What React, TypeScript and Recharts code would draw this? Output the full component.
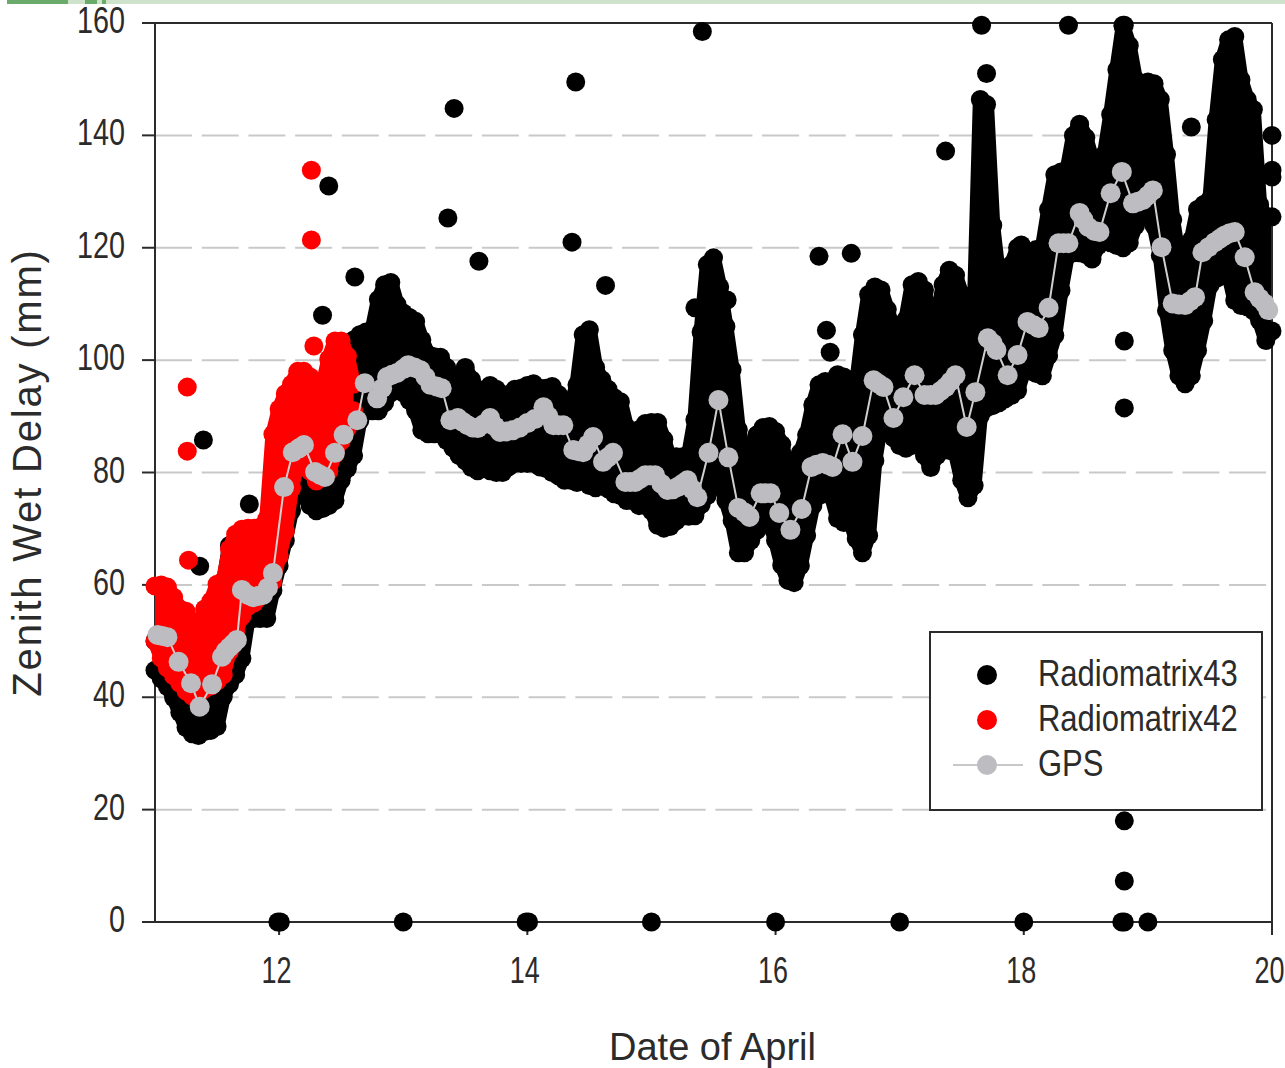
// Zenith wet delay, radiometers against GPS, 11-20 April
import {
  Area,
  CartesianGrid,
  ComposedChart,
  Legend,
  ReferenceLine,
  Scatter,
  XAxis,
  YAxis,
} from 'recharts';

// Radiomatrix43: sample days with the top and bottom of the dense cloud
const days43 = [
  11, 11.05, 11.1, 11.15, 11.2, 11.25, 11.3, 11.35, 11.4, 11.45, 11.5, 11.55, 11.6, 11.65, 11.7, 11.75, 11.8, 11.85, 11.9, 11.95,
  12, 12.05, 12.1, 12.15, 12.2, 12.25, 12.3, 12.35, 12.4, 12.45, 12.5, 12.55, 12.6, 12.65, 12.7, 12.75, 12.8, 12.85, 12.9, 12.95,
  13, 13.05, 13.1, 13.15, 13.2, 13.25, 13.3, 13.35, 13.4, 13.45, 13.5, 13.55, 13.6, 13.65, 13.7, 13.75, 13.8, 13.85, 13.9, 13.95,
  14, 14.05, 14.1, 14.15, 14.2, 14.25, 14.3, 14.35, 14.4, 14.45, 14.5, 14.55, 14.6, 14.65, 14.7, 14.75, 14.8, 14.85, 14.9, 14.95,
  15, 15.05, 15.1, 15.15, 15.2, 15.25, 15.3, 15.35, 15.4, 15.45, 15.5, 15.55, 15.6, 15.65, 15.7, 15.75, 15.8, 15.85, 15.9, 15.95,
  16, 16.05, 16.1, 16.15, 16.2, 16.25, 16.3, 16.35, 16.4, 16.45, 16.5, 16.55, 16.6, 16.65, 16.7, 16.75, 16.8, 16.85, 16.9, 16.95,
  17, 17.05, 17.1, 17.15, 17.2, 17.25, 17.3, 17.35, 17.4, 17.45, 17.5, 17.55, 17.6, 17.65, 17.7, 17.75, 17.8, 17.85, 17.9, 17.95,
  18, 18.05, 18.1, 18.15, 18.2, 18.25, 18.3, 18.35, 18.4, 18.45, 18.5, 18.55, 18.6, 18.65, 18.7, 18.75, 18.8, 18.85, 18.9, 18.95,
  19, 19.05, 19.1, 19.15, 19.2, 19.25, 19.3, 19.35, 19.4, 19.45, 19.5, 19.55, 19.6, 19.65, 19.7, 19.75, 19.8, 19.85, 19.9, 19.95,
  20,
];
const high43 = [
  50, 50, 49, 48, 47, 46, 46, 46, 47, 48, 52, 60, 67, 68, 68, 68, 68, 68, 70, 73,
  80, 85, 88, 90, 92, 93, 93, 94, 95, 97, 100, 103, 103.6, 104.5, 105, 105.4, 110.8, 113.4, 113.8, 109.9,
  108.4, 107.6, 106.9, 103.6, 101, 100.6, 100.5, 98.7, 96.5, 96.9, 98.7, 96.5, 94.8, 94.4, 95.5, 94.8, 93.9, 93.3, 94.8, 95,
  95.5, 95.8, 95, 95, 95.3, 93.9, 92.6, 92, 95.6, 104.5, 105.4, 98.7, 96.5, 94.8, 93.3, 92.6, 88, 86.7, 87.6, 88.7,
  88.9, 88.9, 85.9, 82.3, 82.8, 82.8, 83.2, 89.4, 105, 117, 118.2, 113, 106, 98.3, 87.6, 83.5, 83.5, 86.7, 88, 88.2,
  87.3, 85, 80.5, 79.1, 83.5, 86.7, 92, 95.6, 96.2, 96.2, 97.4, 97, 96.2, 95.3, 104.5, 111.7, 113, 112.5, 109, 105.4,
  105, 107.2, 113.4, 114, 112.5, 105.4, 107.2, 113.4, 116, 115.1, 111.7, 107.2, 108, 146.4, 145.5, 124, 114.3, 110, 117, 120,
  118.8, 117, 119.7, 120, 126.8, 133, 133.5, 133.9, 140, 142, 139.6, 135.7, 133.9, 136.6, 143.7, 151.7, 159.4, 156, 149.9, 149.2,
  149.5, 149.2, 146.4, 136.6, 125, 117.9, 116.5, 121.4, 126.8, 127.7, 128.6, 142.8, 153.5, 157, 157.6, 149.9, 146.4, 144.6, 127.7, 125.5,
  125.5,
];
const low43 = [
  44.8, 43.3, 41.9, 39.9, 37.3, 34.6, 33.5, 33.2, 33.9, 34.1, 34.8, 40.1, 42.3, 44, 46.9, 54, 54, 54, 54, 59,
  63.4, 67.9, 73.2, 78.6, 75.9, 74.1, 73.2, 73.6, 74.1, 75, 78.6, 80.7, 83, 89.2, 91, 91, 91, 92.4, 94.2, 94.9,
  94.2, 92.8, 91, 87.5, 86.9, 86.9, 86.9, 85.7, 84.4, 83, 82.1, 80.9, 80.3, 80.7, 80.3, 80, 80, 81, 81.6, 81.6,
  81.6, 81.6, 81, 80.7, 80, 79.4, 78.6, 78.6, 78.2, 78.9, 77.7, 77.3, 77.7, 77.1, 76.2, 75.9, 75, 75, 74.1, 74.1,
  73.2, 70.6, 70.1, 70.4, 71.4, 72.2, 72.2, 72.3, 74.3, 75.9, 77.7, 78.6, 75, 71.4, 65.7, 65.7, 67.9, 69.7, 72.3, 71.4,
  67.9, 63.5, 60.8, 60.4, 63.4, 68.8, 74.1, 75.9, 76.2, 75.9, 71.8, 71.1, 71.4, 68.2, 65.7, 68.8, 82.1, 88.9, 87.5, 86.2,
  84.8, 84.3, 84.8, 85.3, 83, 80.9, 83, 84.3, 83.9, 83.5, 78.6, 75.5, 77.7, 90.1, 91.5, 91.9, 92.4, 93.1, 93.7, 94.6,
  98.1, 98.1, 97.6, 97.2, 100.8, 104.4, 112.4, 118.6, 119.1, 119.1, 118.8, 118, 120.4, 121.6, 120.9, 120.4, 120, 120.9, 123.9, 125.5,
  126.6, 123.9, 118.6, 108.8, 101.7, 97.2, 95.8, 97.2, 101.7, 107, 113.3, 114.5, 115, 115.4, 110.6, 109.7, 109.5, 108.8, 107, 103.5,
  105.2,
];

// Radiomatrix43: isolated points outside the cloud
const strayDays43 = [
  11.39, 11.76, 11.36, 12.35, 12.4, 12.61, 13.36, 13.41, 13.61, 14.36, 14.39, 14.63, 15.41, 15.35, 15.61, 16.35, 16.61, 16.41, 16.44,
  17.66, 17.7, 17.37, 17.98, 18.36, 18.8, 18.81, 19.35, 18.81, 18.81, 18.81, 18.81, 20, 20, 20,
  11.99, 12.01, 13, 13.99, 14.01, 15, 16, 17, 18, 18.79, 18.81, 19,
];
const strayValues43 = [
  85.8, 74.4, 63.3, 108, 131, 114.8, 125.3, 144.8, 117.6, 121, 149.5, 113.3, 158.5, 109.3, 110.7, 118.5, 119, 105.3, 101.4,
  159.6, 151, 137.2, 120.5, 159.6, 159.6, 159.6, 141.5, 103.4, 91.5, 18, 7.3, 140, 133.8, 132.6,
  0, 0, 0, 0, 0, 0, 0, 0, 0, 0, 0, 0,
];

// Radiomatrix42 only covers the first part of the period
const days42 = [
  11, 11.05, 11.1, 11.15, 11.2, 11.25, 11.3, 11.35, 11.4, 11.45, 11.5, 11.55, 11.6, 11.65, 11.7, 11.75, 11.8, 11.85, 11.9, 11.95,
  12, 12.05, 12.1, 12.15, 12.2, 12.25, 12.3, 12.35, 12.4, 12.45, 12.5, 12.55, 12.6,
];
const high42 = [
  59.8, 60, 59.6, 57.8, 55.7, 55.3, 53, 52.7, 55.7, 57.1, 60.1, 60.7, 66.4, 69, 69.9, 70.1, 70.1, 70.3, 71.7, 86.8,
  91.3, 94, 95.7, 98, 98, 97, 95.7, 95.3, 100.2, 103.4, 103.4, 100.7, 95.7,
];
const low42 = [
  50, 47, 45.2, 43.8, 42.5, 41.1, 40.2, 40.6, 41.5, 42, 42.9, 44, 48.2, 51.8, 54.4, 56.2, 56.8, 58, 59.3, 60.7,
  65.1, 69.6, 77.2, 82, 81.5, 80.2, 78.5, 79.2, 80.2, 83.3, 85.6, 87.9, 91,
];
const strayDays42 = [11.26, 11.26, 11.27, 12.26, 12.26, 12.28];
const strayValues42 = [95.2, 83.8, 64.4, 133.8, 121.4, 102.5];

const gpsDays = [
  11.02, 11.06, 11.1, 11.19, 11.29, 11.36, 11.46, 11.54, 11.57, 11.6, 11.63, 11.66, 11.7, 11.75, 11.79, 11.83, 11.87, 11.91, 11.95, 12.04,
  12.11, 12.16, 12.2, 12.29, 12.33, 12.37, 12.45, 12.52, 12.63, 12.69, 12.79, 12.83, 12.87, 12.91, 12.95, 13, 13.04, 13.09, 13.14, 13.18,
  13.22, 13.27, 13.31, 13.38, 13.44, 13.48, 13.52, 13.56, 13.6, 13.65, 13.7, 13.74, 13.78, 13.83, 13.88, 13.94, 14, 14.06, 14.13, 14.17,
  14.21, 14.25, 14.29, 14.37, 14.41, 14.45, 14.49, 14.53, 14.61, 14.65, 14.69, 14.79, 14.83, 14.87, 14.91, 14.95, 14.99, 15.03, 15.08, 15.13,
  15.17, 15.21, 15.25, 15.29, 15.33, 15.37, 15.46, 15.54, 15.62, 15.7, 15.75, 15.79, 15.88, 15.92, 15.96, 16.03, 16.12, 16.21, 16.29, 16.33,
  16.38, 16.42, 16.46, 16.54, 16.62, 16.7, 16.79, 16.83, 16.87, 16.95, 17.03, 17.12, 17.2, 17.25, 17.29, 17.33, 17.37, 17.41, 17.45, 17.54,
  17.61, 17.71, 17.75, 17.78, 17.87, 17.95, 18.03, 18.08, 18.12, 18.2, 18.28, 18.32, 18.36, 18.45, 18.48, 18.52, 18.57, 18.61, 18.7, 18.79,
  18.88, 18.92, 18.96, 19, 19.04, 19.11, 19.2, 19.25, 19.3, 19.34, 19.38, 19.44, 19.49, 19.54, 19.58, 19.62, 19.66, 19.7, 19.78, 19.86,
  19.9, 19.94, 19.97,
];
const gpsValues = [
  51.1, 50.9, 50.7, 46.3, 42.5, 38.3, 42.3, 47.2, 48.2, 48.9, 49.5, 50.2, 59.1, 58.2, 57.8, 58, 58.2, 59.5, 62.1, 77.4,
  83.6, 84.3, 84.9, 80.1, 79.6, 79.2, 83.5, 86.7, 89.3, 95.9, 93.2, 95, 97, 97.4, 97.7, 98.4, 99.1, 98.7, 98.2, 97,
  95.6, 95.3, 95, 89.3, 89.7, 89, 88.4, 88, 87.9, 88.6, 89.7, 88.2, 87.2, 87.3, 87.5, 88, 88.8, 89.5, 91.6, 90,
  88.4, 88.4, 88.4, 84, 83.8, 83.6, 85, 86.3, 81.9, 82.7, 83.5, 78.3, 78.3, 78.3, 78.9, 79.5, 79.5, 79.5, 78, 76.9,
  77, 77.4, 78, 78.6, 77, 75.6, 83.5, 92.9, 82.7, 73.7, 72.9, 72.1, 76.3, 76.3, 76.3, 72.8, 69.8, 73.5, 81, 81.4,
  81.7, 81.4, 81, 86.8, 81.9, 86.5, 96.4, 95.8, 95.2, 89.7, 93.4, 97.3, 93.8, 93.8, 93.8, 94.5, 95.2, 96.2, 97.3, 88.1,
  94.3, 103.9, 103, 101.8, 97.3, 100.9, 106.8, 106.2, 105.7, 109.3, 120.8, 120.8, 120.8, 126.2, 125, 123.7, 123, 122.8, 129.7, 133.5,
  127.9, 128.2, 128.5, 129.3, 130.2, 120.1, 110.1, 109.9, 109.8, 110.5, 111.2, 119.2, 120.1, 121, 121.6, 122.2, 122.6, 122.8, 118.3, 112.1,
  111, 110.1, 108.9,
];

const xTicks = [12, 14, 16, 18, 20];
const yTicks = [0, 20, 40, 60, 80, 100, 120, 140, 160];
const legendNames = ['Radiomatrix43', 'Radiomatrix42', 'GPS'];

const BLACK = '#000000';
const RED = '#ff0000';
const GREY = '#bdbcc0';
const INK = '#2b2b2b';
const FONT = '"Liberation Sans", sans-serif';

const band = (days: number[], high: number[], low: number[]) =>
  days.map((x, i) => ({ x, range: [low[i], high[i]] }));

const cloud = (days: number[], high: number[], low: number[], strayDays: number[], strayValues: number[]) => [
  ...days.map((x, i) => ({ x, y: high[i] })),
  ...days.map((x, i) => ({ x, y: low[i] })),
  ...strayDays.map((x, i) => ({ x, y: strayValues[i] })),
];

const dot = (color: string, r: number) => (props: any) =>
  <circle cx={props.cx} cy={props.cy} r={r} fill={color} />;

// digits in the source are tall and narrow, squeeze them with textLength
const XTick = ({ x, y, payload }: any) => (
  <text
    x={x - 2.5}
    y={y + 30}
    textAnchor="middle"
    fill={INK}
    fontSize={36}
    fontFamily={FONT}
    textLength={String(payload.value).length * 15}
    lengthAdjust="spacingAndGlyphs"
  >
    {payload.value}
  </text>
);

const YTick = ({ x, y, payload }: any) => (
  <text
    x={x + 1}
    y={y + 10}
    textAnchor="end"
    fill={INK}
    fontSize={36}
    fontFamily={FONT}
    textLength={String(payload.value).length * 16}
    lengthAdjust="spacingAndGlyphs"
  >
    {payload.value}
  </text>
);

const ChartLegend = () => (
  <div
    style={{
      boxSizing: 'border-box',
      width: 334,
      height: 180,
      background: '#fff',
      border: `2px solid ${INK}`,
      position: 'relative',
      fontFamily: FONT,
      fontSize: 36,
      color: INK,
    }}
  >
    {legendNames.map((name, i) => (
      <div key={name} style={{ position: 'absolute', top: 20 + i * 45, left: 0, height: 45, width: '100%' }}>
        <svg width={100} height={45} style={{ position: 'absolute', left: 0, top: 0 }}>
          {i === 2 && <line x1={22} x2={92} y1={22} y2={22} stroke="#c8c8c8" strokeWidth={2} />}
          <circle cx={56} cy={22} r={10} fill={[BLACK, RED, GREY][i]} />
        </svg>
        <span
          style={{
            position: 'absolute',
            left: 107,
            top: 0,
            lineHeight: '42px',
            whiteSpace: 'nowrap',
            transform: 'scaleX(0.86)',
            transformOrigin: 'left center',
          }}
        >
          {name}
        </span>
      </div>
    ))}
  </div>
);

export default function App() {
  return (
    <div style={{ position: 'absolute', left: 0, top: 0, width: 1285, height: 1068, overflow: 'hidden', background: '#fff' }}>
      <div style={{ position: 'absolute', left: 7, top: 0, width: 1278, height: 4, background: '#cfe3cc' }} />
      <div style={{ position: 'absolute', left: 7, top: 0, width: 61, height: 4, background: '#6aaa6a' }} />
      <div style={{ position: 'absolute', left: 85, top: 0, width: 12, height: 4, background: '#6aaa6a' }} />
      <div style={{ position: 'absolute', left: 102, top: 0, width: 4, height: 4, background: '#6aaa6a' }} />

      {/* base chart: axes, grid and the Radiomatrix43 cloud */}
      <ComposedChart
        width={1285}
        height={1068}
        margin={{ top: 23, right: 13, bottom: 0, left: 0 }}
        style={{ position: 'absolute', left: 0, top: 0 }}
      >
        <CartesianGrid vertical={false} stroke="#c9c9c9" strokeWidth={2} strokeDasharray="37 9.7" />
        <XAxis
          dataKey="x"
          type="number"
          domain={[11, 20]}
          ticks={xTicks}
          interval={0}
          height={146}
          tickSize={13}
          tickMargin={18}
          allowDuplicatedCategory={false}
          stroke={INK}
          strokeWidth={2}
          tick={<XTick />}
          label={{ value: 'Date of April', position: 'insideBottom', offset: 8, dx: -1, fill: INK, fontSize: 38, fontFamily: FONT }}
        />
        <YAxis
          dataKey="y"
          type="number"
          domain={[0, 160]}
          ticks={yTicks}
          interval={0}
          width={155}
          tickSize={13}
          tickMargin={18}
          stroke={INK}
          strokeWidth={2}
          tick={<YTick />}
          label={{
            value: 'Zenith Wet Delay (mm)',
            angle: -90,
            position: 'insideLeft',
            dx: 22,
            dy: 0,
            fill: INK,
            fontSize: 40,
            letterSpacing: 1.8,
            fontFamily: FONT,
            style: { textAnchor: 'middle' },
          }}
        />
        <ReferenceLine y={160} stroke={INK} strokeWidth={2} />
        <ReferenceLine x={20} stroke={INK} strokeWidth={2} />
        <Area
          data={band(days43, high43, low43)}
          dataKey="range"
          fill={BLACK}
          fillOpacity={1}
          stroke={BLACK}
          strokeWidth={15}
          strokeLinejoin="round"
          dot={false}
          activeDot={false}
          legendType="none"
          isAnimationActive={false}
        />
        <Scatter
          name="Radiomatrix43"
          data={cloud(days43, high43, low43, strayDays43, strayValues43)}
          shape={dot(BLACK, 9.5)}
          isAnimationActive={false}
        />
      </ComposedChart>

      {/* second layer with the same scales: red has to sit on top of the black scatter */}
      <ComposedChart
        width={1285}
        height={1068}
        margin={{ top: 23, right: 13, bottom: 146, left: 155 }}
        style={{ position: 'absolute', left: 0, top: 0 }}
      >
        <XAxis dataKey="x" type="number" domain={[11, 20]} allowDuplicatedCategory={false} hide />
        <YAxis dataKey="y" type="number" domain={[0, 160]} hide />
        <Area
          data={band(days42, high42, low42)}
          dataKey="range"
          fill={RED}
          fillOpacity={1}
          stroke={RED}
          strokeWidth={15}
          strokeLinejoin="round"
          dot={false}
          activeDot={false}
          legendType="none"
          isAnimationActive={false}
        />
        <Scatter
          name="Radiomatrix42"
          data={cloud(days42, high42, low42, strayDays42, strayValues42)}
          shape={dot(RED, 9.5)}
          isAnimationActive={false}
        />
        <Scatter
          name="GPS"
          data={gpsDays.map((x, i) => ({ x, y: gpsValues[i] }))}
          line={{ stroke: '#cfcfcf', strokeWidth: 2 }}
          shape={dot(GREY, 10)}
          isAnimationActive={false}
        />
        <Legend
          layout="horizontal"
          align="center"
          verticalAlign="middle"
          wrapperStyle={{ left: 929, top: 631, width: 334, height: 180 }}
          content={<ChartLegend />}
        />
      </ComposedChart>
    </div>
  );
}
